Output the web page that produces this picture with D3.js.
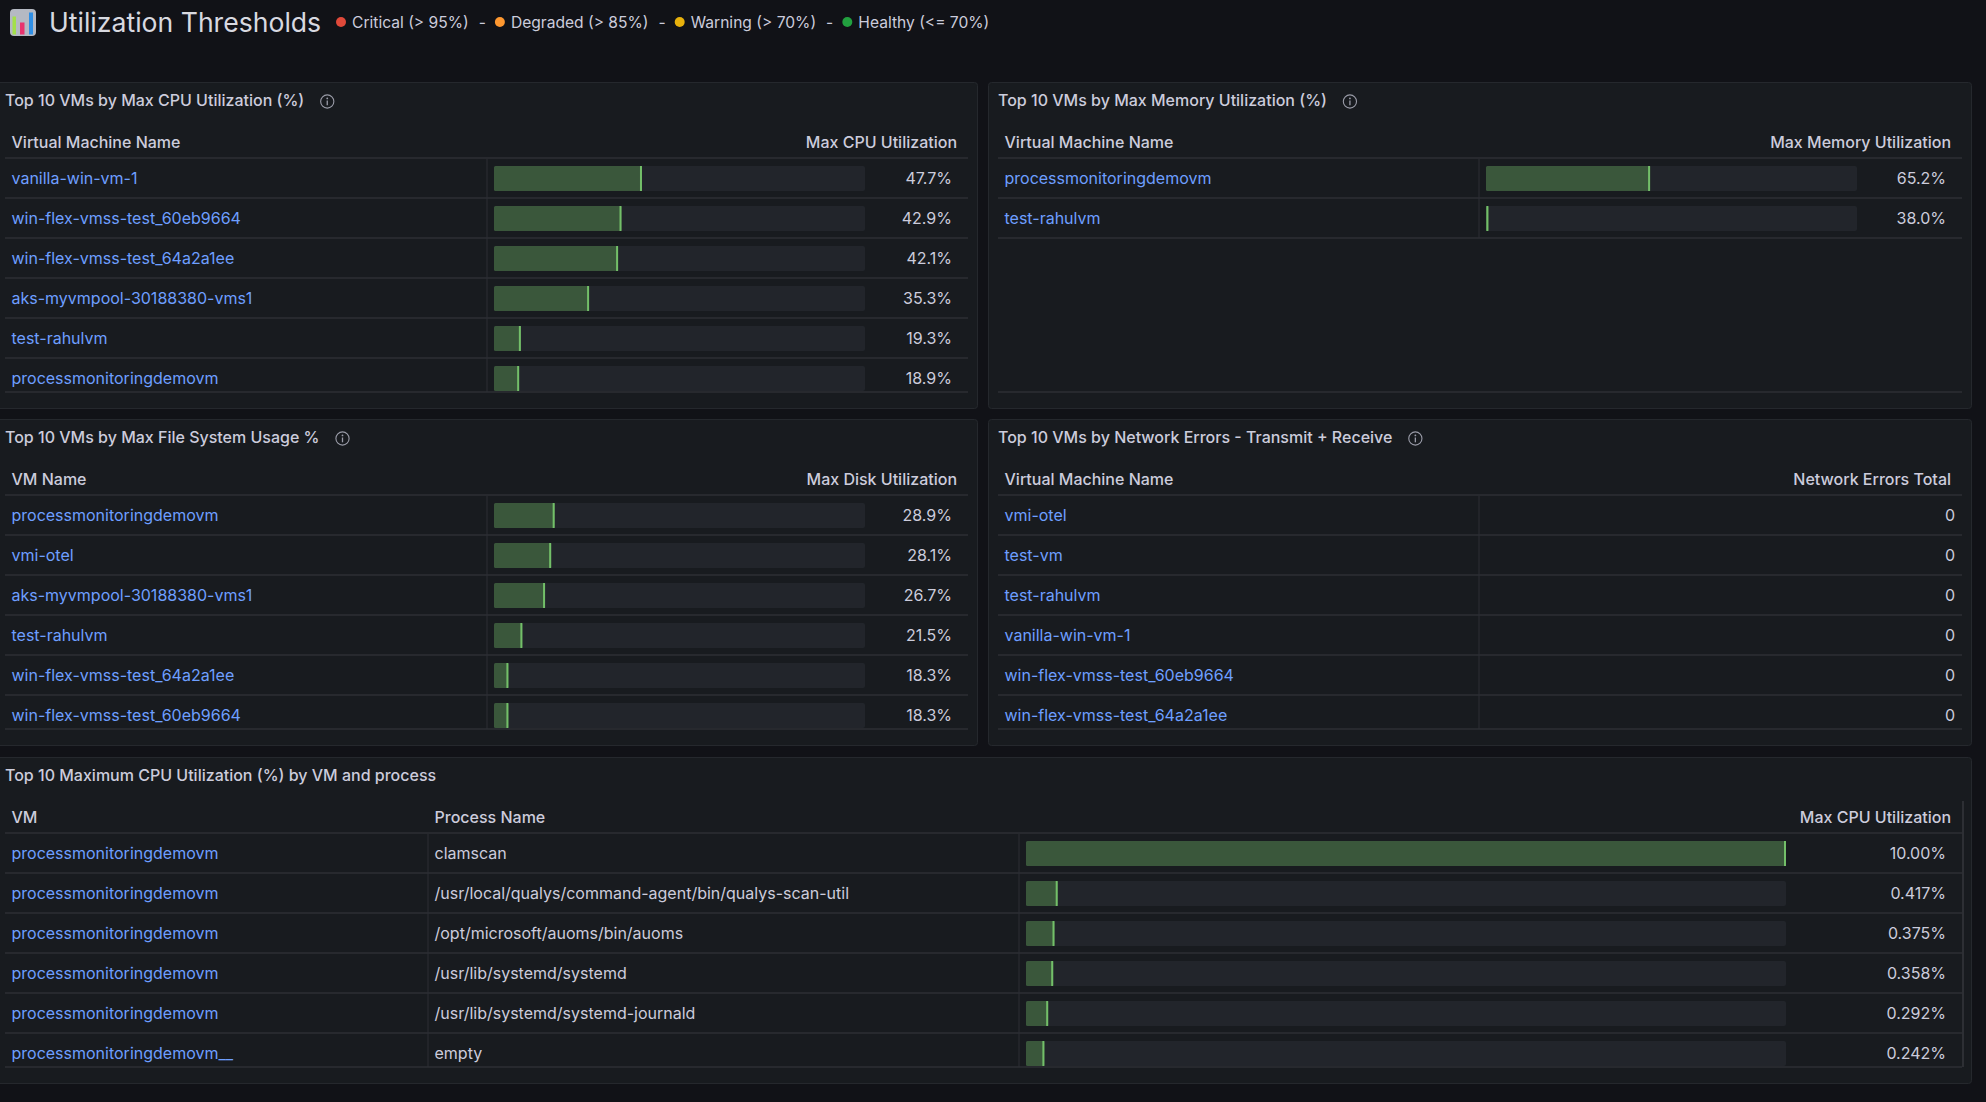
<!DOCTYPE html>
<html>
<head>
<meta charset="utf-8">
<script src="https://cdn.jsdelivr.net/npm/d3@7"></script>
<style>
  body { margin: 0; background: #111217; }
  svg { display: block; font-family: Inter, "Noto Sans", sans-serif; }
  .ptitle { fill: #ccccdc; font-size: 16px; font-weight: 500; }
  .head { fill: #ccccdc; font-size: 16px; font-weight: 500; }
  .link { fill: #6e9fff; font-size: 16px; }
  .cell { fill: #ccccdc; font-size: 16px; }
</style>
</head>
<body>
<script>
// legend of the thresholds
var legendLabels = ["Critical (> 95%)", "Degraded (> 85%)", "Warning (> 70%)", "Healthy (<= 70%)"];
var legendColors = ["#e0493a", "#ff9830", "#e8b10c", "#22a03f"];

// Top 10 VMs by Max CPU
var cpuVms = ["vanilla-win-vm-1", "win-flex-vmss-test_60eb9664", "win-flex-vmss-test_64a2a1ee",
              "aks-myvmpool-30188380-vms1", "test-rahulvm", "processmonitoringdemovm"];
var cpuValues = [47.7, 42.9, 42.1, 35.3, 19.3, 18.9];

// Top 10 VMs by Max Memory
var memVms = ["processmonitoringdemovm", "test-rahulvm"];
var memValues = [65.2, 38.0];

// Top 10 VMs by Max File System Usage
var diskVms = ["processmonitoringdemovm", "vmi-otel", "aks-myvmpool-30188380-vms1",
               "test-rahulvm", "win-flex-vmss-test_64a2a1ee", "win-flex-vmss-test_60eb9664"];
var diskValues = [28.9, 28.1, 26.7, 21.5, 18.3, 18.3];

// Network errors
var netVms = ["vmi-otel", "test-vm", "test-rahulvm", "vanilla-win-vm-1",
              "win-flex-vmss-test_60eb9664", "win-flex-vmss-test_64a2a1ee"];
var netValues = [0, 0, 0, 0, 0, 0];

// Top 10 processes
var procVms = ["processmonitoringdemovm", "processmonitoringdemovm", "processmonitoringdemovm",
               "processmonitoringdemovm", "processmonitoringdemovm", "processmonitoringdemovm__"];
var procNames = ["clamscan", "/usr/local/qualys/command-agent/bin/qualys-scan-util",
                 "/opt/microsoft/auoms/bin/auoms", "/usr/lib/systemd/systemd",
                 "/usr/lib/systemd/systemd-journald", "empty"];
var procValues = [10.00, 0.417, 0.375, 0.358, 0.292, 0.242];

// bar gauge min / max per field (min comes from the rows scrolled out of view)
var cpuRange = [13, 100], memRange = [37.6, 100], diskRange = [15, 100], procRange = [0, 10];

var W = 1986, H = 1102;
var svg = d3.select("body").append("svg").attr("width", W).attr("height", H);
svg.append("rect").attr("width", W).attr("height", H).attr("fill", "#111217");

// ---- header
var icon = svg.append("g").attr("transform", "translate(10,9)");
icon.append("rect").attr("width", 26).attr("height", 27).attr("rx", 4).attr("fill", "#c8ccd6").attr("opacity", 0.9);
icon.append("rect").attr("x", 2.5).attr("y", 7.5).attr("width", 3.5).attr("height", 18).attr("fill", "#a3e04a");
icon.append("rect").attr("x", 10).attr("y", 13.5).attr("width", 4.5).attr("height", 12).attr("fill", "#e8336e");
icon.append("rect").attr("x", 19).attr("y", 3.5).attr("width", 4).attr("height", 22).attr("fill", "#2f8fe6");

svg.append("text").attr("x", 49).attr("y", 31.5)
  .attr("fill", "#d8d9e0").attr("font-size", 26.6).text("Utilization Thresholds");

var lx = 336;
legendLabels.forEach(function(l, i) {
  svg.append("circle").attr("cx", lx + 5).attr("cy", 22).attr("r", 5).attr("fill", legendColors[i]);
  var t = svg.append("text").attr("x", lx + 16).attr("y", 27.5).attr("fill", "#ccccdc").attr("font-size", 15.6).text(l);
  lx += 16 + t.node().getComputedTextLength();
  if (i < legendLabels.length - 1) {
    var d = svg.append("text").attr("x", lx + 10).attr("y", 27.5).attr("fill", "#ccccdc").attr("font-size", 15.6).text("-");
    lx += 10 + d.node().getComputedTextLength() + 9;
  }
});

// ---- panels
var clipId = 0;
function fmtPct(v) { return (v >= 10 ? v.toFixed(2) : d3.format(".3r")(v)) + "%"; }

function drawPanel(p, cfg) {
  var g = svg.append("g").attr("transform", "translate(" + p.x + "," + p.y + ")");
  g.append("rect").attr("x", 0.5).attr("y", 0.5).attr("width", p.w - 1).attr("height", p.h - 1)
    .attr("rx", 3).attr("fill", "#181b1f").attr("stroke", "#25282d");

  var title = g.append("text").attr("class", "ptitle").attr("x", 10).attr("y", 18.5).attr("dy", "0.35em").text(cfg.title);
  if (cfg.info) {
    var ix = 10 + title.node().getComputedTextLength() + 23;
    var ic = g.append("g").attr("transform", "translate(" + ix + ",19.5)");
    ic.append("circle").attr("r", 6.6).attr("fill", "none").attr("stroke", "#9a9ca8").attr("stroke-width", 1.1);
    ic.append("circle").attr("cy", -3.1).attr("r", 0.9).attr("fill", "#9a9ca8");
    ic.append("line").attr("y1", -1).attr("y2", 3.8).attr("stroke", "#9a9ca8").attr("stroke-width", 1.3);
  }

  var x0 = 10, x1 = p.w - 10, headY = 76, rowH = 40, bodyH = 234;
  var n = cfg.rows.length;

  // header texts
  cfg.cols.forEach(function(c) {
    var t = g.append("text").attr("class", "head").attr("y", 60.5).attr("dy", "0.35em").text(c.head);
    if (c.right) t.attr("x", x1 - 11).attr("text-anchor", "end");
    else t.attr("x", c.x0 + 6.5);
  });
  g.append("line").attr("x1", x0).attr("x2", x1).attr("y1", headY).attr("y2", headY)
    .attr("stroke", "#2c2f35").attr("stroke-width", 1.5);

  var cid = "clip" + (clipId++);
  g.append("clipPath").attr("id", cid).append("rect")
    .attr("x", 0).attr("y", headY + 1).attr("width", p.w).attr("height", bodyH - 1);
  var body = g.append("g").attr("clip-path", "url(#" + cid + ")");

  var rows = body.selectAll("g.row").data(cfg.rows).enter().append("g")
    .attr("class", "row").attr("transform", function(d, i) { return "translate(0," + (headY + i * rowH) + ")"; });

  rows.append("line").attr("x1", x0).attr("x2", x1).attr("y1", rowH).attr("y2", rowH)
    .attr("stroke", "#2c2f35").attr("stroke-width", 1.5);

  // column dividers
  var lastY = Math.min(headY + n * rowH, headY + bodyH);
  cfg.cols.forEach(function(c, ci) {
    if (ci === 0) return;
    body.append("line").attr("x1", c.x0).attr("x2", c.x0).attr("y1", headY).attr("y2", lastY)
      .attr("stroke", "#2c2f35").attr("stroke-width", 1);
  });

  cfg.cols.forEach(function(c) {
    if (c.type === "link" || c.type === "text") {
      rows.append("text").attr("class", c.type === "link" ? "link" : "cell")
        .attr("x", c.x0 + 6.5).attr("y", 20).attr("dy", "0.35em")
        .text(function(d) { return d[c.key]; });
    } else if (c.type === "bar") {
      var bx = c.x0 + 7;
      var sx = d3.scaleLinear().domain(c.range).range([0, c.barW]).clamp(true);
      rows.append("rect").attr("x", bx).attr("y", 8).attr("width", c.barW).attr("height", 25)
        .attr("rx", 2).attr("fill", "#22252b");
      rows.append("rect").attr("x", bx).attr("y", 8).attr("height", 25).attr("rx", 1.5)
        .attr("width", function(d) { return sx(d[c.key]); }).attr("fill", "#3a573b");
      rows.append("rect").attr("y", 8).attr("height", 25).attr("width", 2)
        .attr("x", function(d) { return bx + Math.max(0, sx(d[c.key]) - 2); }).attr("fill", "#73bf69");
      rows.append("text").attr("class", "cell").attr("x", x1 - 16).attr("y", 20).attr("dy", "0.35em")
        .attr("text-anchor", "end").text(function(d) { return c.fmt(d[c.key]); });
    } else if (c.type === "num") {
      rows.append("text").attr("class", "cell").attr("x", x1 - 7).attr("y", 20).attr("dy", "0.35em")
        .attr("text-anchor", "end").text(function(d) { return d[c.key]; });
    }
  });

  g.append("line").attr("x1", x0).attr("x2", x1).attr("y1", headY + bodyH).attr("y2", headY + bodyH)
    .attr("stroke", "#2c2f35").attr("stroke-width", 1.5);
  if (cfg.scroll) {
    g.append("line").attr("x1", x1 + 1).attr("x2", x1 + 1).attr("y1", 44).attr("y2", headY + bodyH)
      .attr("stroke", "#34373d").attr("stroke-width", 1.5);
  }
}

function zipRows(names, values) {
  return names.map(function(nm, i) { return { name: nm, value: values[i] }; });
}

var pct1 = function(v) { return v.toFixed(1) + "%"; };
var leftP = { x: -5, w: 983, h: 327 }, rightP = { x: 988, w: 984, h: 327 };

drawPanel({ x: leftP.x, y: 82, w: leftP.w, h: leftP.h }, {
  title: "Top 10 VMs by Max CPU Utilization (%)", info: true,
  rows: zipRows(cpuVms, cpuValues),
  cols: [
    { key: "name", head: "Virtual Machine Name", type: "link", x0: 10 },
    { key: "value", head: "Max CPU Utilization", type: "bar", x0: 492, barW: 371, range: cpuRange, fmt: pct1, right: true }
  ]
});

drawPanel({ x: rightP.x, y: 82, w: rightP.w, h: rightP.h }, {
  title: "Top 10 VMs by Max Memory Utilization (%)", info: true,
  rows: zipRows(memVms, memValues),
  cols: [
    { key: "name", head: "Virtual Machine Name", type: "link", x0: 10 },
    { key: "value", head: "Max Memory Utilization", type: "bar", x0: 491, barW: 371, range: memRange, fmt: pct1, right: true }
  ]
});

drawPanel({ x: leftP.x, y: 419, w: leftP.w, h: leftP.h }, {
  title: "Top 10 VMs by Max File System Usage %", info: true,
  rows: zipRows(diskVms, diskValues),
  cols: [
    { key: "name", head: "VM Name", type: "link", x0: 10 },
    { key: "value", head: "Max Disk Utilization", type: "bar", x0: 492, barW: 371, range: diskRange, fmt: pct1, right: true }
  ]
});

drawPanel({ x: rightP.x, y: 419, w: rightP.w, h: rightP.h }, {
  title: "Top 10 VMs by Network Errors - Transmit + Receive", info: true,
  rows: zipRows(netVms, netValues),
  cols: [
    { key: "name", head: "Virtual Machine Name", type: "link", x0: 10 },
    { key: "value", head: "Network Errors Total", type: "num", x0: 491, right: true }
  ]
});

drawPanel({ x: -5, y: 757, w: 1977, h: 327 }, {
  title: "Top 10 Maximum CPU Utilization (%) by VM and process", info: false, scroll: true,
  rows: procVms.map(function(vm, i) { return { vm: vm, proc: procNames[i], value: procValues[i] }; }),
  cols: [
    { key: "vm", head: "VM", type: "link", x0: 10 },
    { key: "proc", head: "Process Name", type: "text", x0: 433 },
    { key: "value", head: "Max CPU Utilization", type: "bar", x0: 1024, barW: 760, range: procRange, fmt: fmtPct, right: true }
  ]
});
</script>
</body>
</html>
